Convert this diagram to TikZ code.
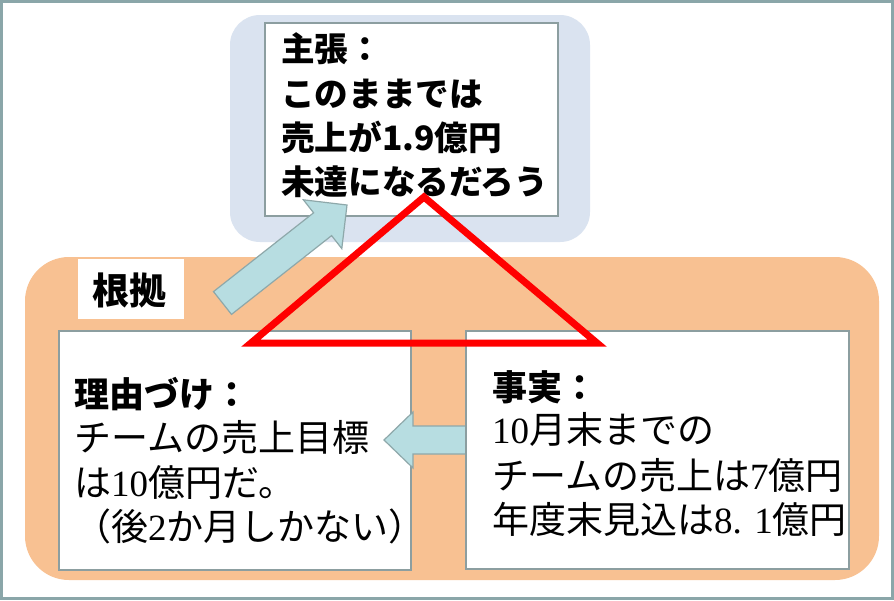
\documentclass[tikz,border=0pt]{standalone}
\usepackage{fontspec}
\setmainfont{Noto Sans CJK JP}
\newfontfamily\ser{Liberation Serif}
\definecolor{framec}{HTML}{8AA6A9}
\definecolor{bluebg}{HTML}{DAE3F0}
\definecolor{orangebg}{HTML}{F8C192}
\definecolor{boxc}{HTML}{8C9EA0}
\definecolor{arrowc}{HTML}{B7DDE1}
\definecolor{arrowbd}{HTML}{8EA8AA}
\definecolor{trired}{HTML}{FF0000}
\tikzset{
  frame/.style={draw=framec, line width=3pt},
  box/.style={draw=boxc, line width=1.5pt, fill=white, inner sep=0pt, anchor=north west},
  blockarrow/.style={fill=arrowc, draw=arrowbd, line width=1.2pt, line join=miter},
  tri/.style={draw=trired, line width=7pt, line join=miter},
  txt/.style={anchor=base west, inner sep=0pt, font=\fontsize{37}{44}\selectfont},
  claimtxt/.style={anchor=base west, inner sep=0pt, font=\fontsize{33.6}{44}\selectfont\bfseries},
  headtxt/.style={anchor=base west, inner sep=0pt, font=\fontsize{35}{44}\selectfont\bfseries},
}
\begin{document}
\begin{tikzpicture}[x=1pt,y=-1pt]
\useasboundingbox (0,0) rectangle (894,600);
\fill[white] (0,0) rectangle (894,600);
\draw[frame] (1.5,1.5) rectangle (892.5,598.5);
% background panels
\fill[bluebg, rounded corners=30pt] (230,15) rectangle (590,242);
\fill[orangebg, rounded corners=44pt] (25,257) rectangle (879,580);
% boxes
\node[box, minimum width=293pt, minimum height=193pt] (claim) at (264,22) {};
\node[box, draw=none, minimum width=106pt, minimum height=60pt] (basislabel) at (77,258) {};
\node[box, minimum width=352pt, minimum height=239pt] (reason) at (58,330) {};
% left block arrow (fact -> reason)
\coordinate (la1) at (466,426);
\coordinate (la2) at (413,426);
\coordinate (la3) at (413,412);
\coordinate (la4) at (384,440);
\coordinate (la5) at (413,468);
\coordinate (la6) at (413,454);
\coordinate (la7) at (466,454);
\draw[blockarrow] (la1) -- (la2) -- (la3) -- (la4) -- (la5) -- (la6) -- (la7) -- cycle;
\node[box, minimum width=383pt, minimum height=238pt] (fact) at (465,330) {};
% diagonal block arrow (basis -> claim)
\coordinate (da1) at (213.5,291.6);
\coordinate (da2) at (313.6,212.8);
\coordinate (da3) at (303.4,199.8);
\coordinate (da4) at (347,205);
\coordinate (da5) at (341.8,248.6);
\coordinate (da6) at (331.6,235.6);
\coordinate (da7) at (231.5,314.4);
\draw[blockarrow] (da1) -- (da2) -- (da3) -- (da4) -- (da5) -- (da6) -- (da7) -- cycle;
% texts
\node[claimtxt] (c1) at (281,61) {主張：};
\node[claimtxt] (c2) at (281,106) {このままでは};
\node[claimtxt] (c3) at (281,150) {売上が1.9億円};
\node[claimtxt] (c4) at (281,194.5) {未達になるだろう};
\node[anchor=base west, inner sep=0pt, font=\fontsize{37}{44}\selectfont\bfseries] (b1) at (92,304) {根拠};
\node[headtxt] (r1) at (74,407) {理由づけ：};
\node[txt] (r2) at (74,451.5) {チームの売上目標};
\node[txt] (r3) at (74,496) {は{\ser 10}億円だ。};
\node[txt] (r4) at (74,540.5) {（後{\ser 2}か月しかない）};
\node[headtxt] (f1) at (492,400) {事実：};
\node[txt] (f2) at (492,443.5) {{\ser 10}月末までの};
\node[txt] (f3) at (492,489) {チームの売上は{\ser 7}億円};
\node[txt] (f4) at (492,533) {年度末見込は{\ser 8. 1}億円};
% red triangle
\coordinate (tA) at (424,197);
\coordinate (tL) at (251,343);
\coordinate (tR) at (597,343);
\draw[tri] (tA) -- (tR) -- (tL) -- cycle;
\end{tikzpicture}
\end{document}
